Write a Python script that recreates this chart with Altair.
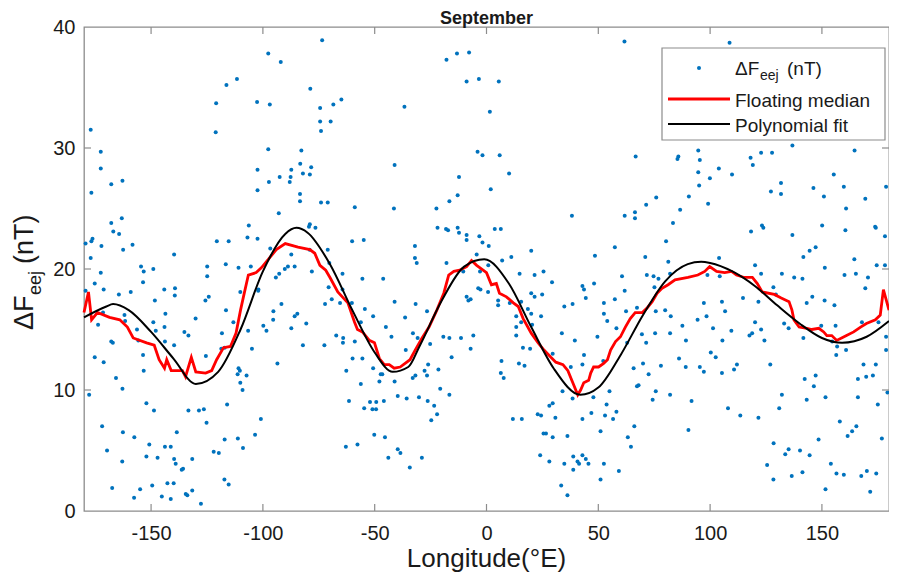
import altair as alt
import pandas as pd

# ---------------- data ----------------
X_TICKS = [-150, -100, -50, 0, 50, 100, 150]
Y_TICKS = [0, 10, 20, 30, 40]
Y_INNER_TICKS = [10, 20, 30]

SCATTER_LON = [
    # far west
    -177.0, -172.5, -172.5, -176.7, -167.8, -162.8, -167.8, -163.1, -166.9, -164.3, -176.2, -176.7,
    -179.3, -172.2, -162.5, -158.3, -177.0, -139.7, -120.9, -116.3, -111.6, -121.1, -102.6, -102.4,
    -102.4, -120.6, -115.3, -106.3, -106.9, -102.4, -124.9, -116.6, -110.9, -105.4,
    -154.5, -149.0, -153.3, -172.5, -175.2, -153.6, -171.2, -179.3, -159.1, -164.4, -139.3, -144.1,
    -139.4, -148.3, -171.5, -161.9, -173.7, -161.6, -156.3, -149.0, -147.9, -144.0, -143.6, -130.1,
    -135.1, -133.3, -167.8, -167.1, -155.7, -143.8, -139.7, -175.2, -171.2, -153.6, -125.5, -153.3,
    -165.7, -177.7, -162.8, -152.1, -148.7, -133.3, -128.6, -126.4, -125.2, -171.9, -162.6, -157.5,
    -150.8, -138.5, -169.7, -143.8, -141.2, -147.1, -152.1, -139.7, -139.0, -135.7, -136.3, -131.6,
    -162.9, -167.4, -154.9, -149.5, -142.7, -139.9, -145.2, -157.6, -141.2, -134.5, -133.8, -131.6,
    -127.7, -124.9, -125.7, -124.2, -110.1, -102.0, -116.5, -113.2, -118.3, -106.6, -104.9, -118.6,
    -117.1, -110.9, -110.3, -111.3, -107.3, -110.1, -109.1, -116.0, -122.0, -119.7, -117.1, -111.2,
    -108.9, -103.5, -117.2, -115.3,
    # west-centre
    -73.5, -97.6, -92.0, -78.8, -96.9, -74.4, -68.5, -64.9, -74.4, -69.7, -74.0, -36.7, -17.9, -13.2,
    -8.9, -97.6, -82.8, -83.3, -78.4, -87.3, -92.5, -87.6, -82.1, -79.0, -97.3, -88.0, -41.1, -12.3,
    -83.4, -83.4, -74.0, -71.0, -92.9, -58.9, -41.4, -12.9, -16.6, -22.4, -79.0, -79.4, -76.5, -96.7,
    -21.9, -18.1, -17.2, -12.9, -12.3, -8.9, -60.1, -54.9, -32.0, -32.0, -31.2, -17.9, -8.9, -87.3,
    -71.0, -79.1,
    -85.8, -88.8, -90.2, -92.7, -94.2, -102.1, -91.7, -95.3, -95.4, -84.6, -85.8, -87.3, -80.6, -99.8,
    -98.4, -82.1, -72.5, -93.5, -78.1, -70.3, -64.4, -72.2, -70.6, -69.2, -64.4, -65.5, -60.2, -55.5,
    -46.2, -10.4, -8.9, -54.4, -50.7, -41.1, -31.7, -26.6, -36.4, -45.0, -42.5, -32.9, -30.8, -25.2,
    -19.3, -16.6, -11.4, -56.2, -67.2, -64.1, -64.2, -58.9, -59.9, -55.5, -62.7, -36.1, -50.7, -47.3,
    -46.6, -26.1, -21.5, -56.2, -47.9, -41.1, -33.0, -31.8, -27.7, -26.6, -15.6, -20.7, -16.6, -39.7,
    -35.7, -30.2, -26.3, -61.5, -52.1, -49.3, -45.9, -54.7, -51.0, -49.4, -23.4, -22.1, -24.7, -100.9,
    -50.2, -45.4, -62.9, -57.7, -39.7, -38.5, -43.9, -28.9, -34.3,
    # east-centre
    -7.8, -3.4, 5.5, 1.5, 61.7, -4.0, -1.8, 5.9, 66.7, 10.1, 1.9, 75.9, 71.4, 38.2, 61.8, 66.4, 66.4,
    83.4, -3.2, -1.8, 1.0, 3.7, 6.4, 20.0, -4.4, 11.1, 7.0, 0.8, 48.5, 57.4, 71.0, 80.3, 81.3,
    -2.9, -3.7, -2.7, 0.7, -8.1, -7.1, 5.2, 5.2, 10.4, 15.5, 18.5, 20.0, 13.3, 13.3, 13.3, 15.5, 20.4,
    24.4, -5.9, -7.1, 16.3, 19.5, 6.7, 14.5, 17.0, 6.4, 7.7, 14.8, 21.5, 25.5, 29.3, 24.9, 20.0, 21.5,
    42.9, 43.6, 48.1, 44.4, 34.8, 38.5, 52.5, 52.5, 54.0, 57.4, 60.6, 61.8, 62.4, 67.3, 71.7, 74.7,
    76.9, 75.1, 82.1, 79.9, 75.7, 82.1, 75.4, 69.5, 58.1, 39.5, 33.7, 49.6, 62.9, 71.4, 29.6, 37.7,
    42.9, 43.6, 52.2, 65.8, 72.5, 78.0, 70.0, 67.3, 68.0, 74.3, 75.7, 82.1, 34.0, 38.5, 47.8, 55.0,
    28.1, 29.6, 22.9, 24.4, 11.8, 15.8, 30.8, 42.9, 46.9, 53.0, 53.7, 56.6, 58.1, 25.5, 26.6, 29.6,
    36.2, 51.0, 66.1, 63.2, 64.6, 24.0, 28.1, 34.8, 38.8, 38.8, 40.7, 41.4, 42.9, 44.4, 45.6, 52.5,
    51.0, 59.2, 33.4, 36.2,
    # far east
    108.7, 136.8, 164.6, 122.8, 127.7, 94.7, 95.4, 85.8, 85.4, 118.1, 119.1, 103.9, 94.7, 99.9, 109.8,
    155.3, 95.1, 131.7, 127.2, 131.7, 146.2, 150.9, 159.8, 169.4, 178.7, 90.5, 99.1, 86.6, 160.8,
    118.3, 123.2, 123.8, 136.8, 150.1, 160.5, 173.8, 174.1, 178.2, 147.2, 144.5, 141.7, 164.5, 174.5,
    178.2, 104.0, 120.1, 151.3,
    98.8, 104.3, 122.8, 132.1, 137.6, 141.3, 160.1, 165.2, 170.6, 169.4, 128.3, 129.4, 114.7, 121.6,
    97.2, 105.3, 106.7, 143.2, 145.7, 151.2, 155.6, 82.4, 98.4, 94.4, 120.1, 133.1, 135.1, 149.7,
    156.1, 167.9, 175.3, 87.6, 101.3, 109.5, 117.6, 118.8, 122.8, 124.3, 105.5, 89.2, 141.7, 154.6,
    156.8, 160.8, 178.7, 178.7, 156.4, 100.3, 102.5, 86.1, 89.1, 95.4, 97.2, 105.3, 110.7, 112.0,
    126.9, 168.6, 174.1, 169.8, 172.8, 166.1, 142.3, 147.2, 146.4, 91.7, 132.1, 143.2, 151.6, 166.1,
    175.0, 179.3, 108.0, 113.5, 121.6, 130.9, 158.0, 165.4, 163.5, 161.5, 176.8, 90.3, 148.5, 128.4,
    135.1, 133.6, 140.2, 144.5, 125.5, 154.0, 128.3, 136.5, 141.3, 156.5, 159.8, 167.6, 170.1, 174.3,
    151.6, 171.6,
]

SCATTER_VAL = [
    # far west
    31.5, 29.7, 28.3, 26.3, 27.0, 27.3, 23.8, 24.2, 23.1, 22.9, 22.5, 22.3,
    22.1, 21.9, 21.6, 22.0, 20.9, 21.2, 33.7, 35.2, 35.7, 31.3, 33.8, 28.2,
    26.5, 22.3, 22.3, 23.6, 22.6, 22.5, 20.2, 20.4, 20.1, 20.2,
    20.2, 20.0, 19.8, 19.7, 18.8, 18.9, 18.3, 18.2, 18.1, 17.9, 18.4, 18.3,
    17.8, 17.4, 16.4, 16.2, 15.4, 15.7, 15.0, 15.6, 14.9, 15.2, 16.3, 15.9,
    14.8, 14.5, 14.0, 13.9, 14.1, 14.0, 13.7, 12.7, 12.3, 12.9, 12.8, 11.6,
    11.0, 9.6, 10.1, 8.9, 8.3, 8.3, 8.3, 8.4, 7.3, 7.0, 6.5, 6.1,
    5.5, 6.5, 5.0, 5.3, 5.3, 4.4, 4.5, 4.3, 3.9, 3.5, 3.4, 4.3,
    4.1, 1.9, 1.8, 2.1, 2.3, 2.3, 1.2, 1.1, 1.0, 1.4, 1.3, 1.7,
    0.6, 19.4, 17.4, 17.7, 18.1, 18.3, 16.6, 15.6, 14.7, 14.9, 13.4, 13.4,
    13.5, 11.8, 11.6, 11.3, 11.2, 10.6, 10.0, 8.8, 4.9, 4.8, 5.9, 6.0,
    5.2, 6.3, 2.6, 2.2,
    # west-centre
    38.9, 37.8, 37.1, 34.9, 33.6, 33.3, 33.6, 34.0, 32.2, 32.2, 31.4, 33.4, 37.3, 37.8,
    35.5, 29.9, 29.8, 28.7, 28.4, 28.2, 27.6, 27.6, 27.9, 27.8, 27.2, 27.2, 28.6, 27.6,
    26.2, 25.6, 25.5, 25.5, 24.6, 25.1, 25.0, 26.1, 25.6, 25.0, 23.7, 23.5, 23.4, 21.7,
    23.4, 23.3, 23.2, 23.4, 23.0, 22.8, 22.3, 22.4, 21.9, 20.9, 20.5, 20.5, 22.4, 21.2,
    21.6, 21.6,
    20.2, 20.2, 20.0, 19.6, 19.3, 18.2, 17.1, 16.5, 15.8, 16.3, 16.1, 15.1, 15.5, 15.3,
    14.9, 13.7, 13.7, 12.2, 19.8, 20.5, 19.6, 17.1, 18.5, 17.5, 18.3, 17.2, 17.2, 19.2,
    19.2, 19.8, 17.7, 16.7, 16.1, 17.3, 17.1, 16.5, 16.0, 15.2, 14.4, 14.7, 14.3, 13.8,
    14.4, 14.3, 14.3, 15.6, 14.5, 14.3, 13.9, 14.0, 12.6, 12.6, 11.6, 13.3, 11.8, 11.3,
    11.3, 12.1, 11.7, 10.5, 10.7, 10.7, 11.0, 11.2, 11.6, 11.2, 12.7, 10.1, 9.6, 9.5,
    9.3, 9.4, 9.1, 9.1, 9.0, 9.0, 9.1, 8.5, 8.4, 8.4, 8.7, 8.0, 7.5, 7.6,
    6.3, 6.1, 5.3, 5.5, 5.1, 4.8, 4.4, 4.4, 3.6,
    # east-centre
    37.9, 35.7, 35.5, 33.0, 38.8, 29.7, 29.4, 29.4, 29.3, 27.9, 26.6, 25.9, 25.3, 24.4, 24.4, 24.7, 24.2,
    23.8, 22.7, 22.2, 21.9, 23.3, 23.3, 21.5, 21.2, 21.0, 20.7, 20.3, 21.1, 21.8, 21.0, 22.3, 20.6,
    19.8, 18.4, 18.3, 18.1, 17.4, 17.5, 17.4, 17.0, 17.2, 17.3, 16.7, 16.3, 16.1, 15.2, 14.5, 15.6, 15.4,
    16.1, 14.5, 13.4, 13.5, 13.4, 12.4, 12.2, 12.0, 11.4, 11.0, 19.6, 19.5, 19.8, 18.9, 17.9, 18.0, 17.7,
    18.6, 18.3, 18.8, 17.6, 16.9, 17.1, 17.2, 16.3, 15.7, 17.5, 19.4, 18.2, 16.5, 16.8, 19.5, 19.4,
    19.2, 18.5, 19.6, 16.6, 16.5, 14.7, 14.7, 14.6, 15.1, 14.1, 14.7, 14.4, 13.9, 13.9, 13.0, 11.9,
    12.1, 12.9, 12.4, 11.8, 11.3, 12.0, 12.2, 10.3, 10.4, 9.2, 9.9, 9.6, 9.9, 9.3, 9.4, 9.9,
    8.7, 8.9, 8.0, 7.9, 7.6, 7.6, 7.7, 7.6, 8.1, 7.9, 8.8, 7.6, 8.2, 6.4, 6.4, 6.1,
    6.2, 6.6, 7.0, 6.1, 5.3, 4.6, 4.1, 3.9, 4.5, 3.4, 4.1, 3.9, 4.6, 4.3, 3.9, 3.9,
    2.6, 3.3, 2.1, 1.3,
    # far east
    38.7, 30.2, 29.8, 29.6, 29.6, 29.8, 29.0, 29.3, 29.1, 29.2, 28.6, 28.3, 28.0, 27.5, 27.8,
    27.8, 26.9, 27.1, 26.4, 26.2, 26.7, 26.0, 26.8, 25.8, 26.8, 26.0, 25.4, 24.9, 25.0,
    23.1, 23.6, 23.4, 22.8, 23.6, 23.2, 23.5, 23.4, 22.7, 21.8, 21.5, 21.0, 20.8, 20.3,
    20.3, 20.9, 20.3, 20.1,
    19.5, 19.4, 19.6, 19.6, 19.3, 19.2, 19.5, 19.6, 19.3, 18.4, 18.5, 17.9, 17.6, 17.3,
    17.2, 17.3, 16.5, 17.2, 17.7, 17.4, 17.0, 16.1, 16.1, 15.8, 15.6, 15.5, 15.1, 15.3,
    15.3, 15.6, 15.6, 15.3, 15.1, 14.9, 14.5, 14.7, 15.0, 14.1, 14.1, 14.1, 14.3, 14.0,
    13.6, 13.3, 14.4, 13.3, 12.9, 13.1, 12.7, 12.6, 11.9, 11.9, 11.5, 11.4, 11.7, 12.1,
    12.1, 12.1, 12.1, 11.1, 11.2, 10.9, 10.9, 11.2, 10.3, 9.1, 9.6, 9.2, 9.4, 9.4,
    8.8, 9.8, 8.5, 7.9, 7.7, 8.5, 7.4, 7.0, 6.6, 6.2, 6.0, 6.7, 5.9, 5.6,
    5.1, 4.7, 5.0, 4.6, 3.8, 3.9, 2.6, 2.9, 3.2, 3.1, 3.0, 2.9, 3.3, 3.1,
    1.8, 1.6,
]

MEDIAN_LON = [
    -180, -178, -176.6, -174, -168.6, -164, -160.6, -158, -152, -148.6, -146.4, -144, -143, -141, -136,
    -134.6, -132, -130, -125.6, -122.9, -120.7, -117.6, -114.5, -112, -110, -108.7, -106.5, -103, -100.7,
    -94, -90, -84.3, -79, -76.8, -74.5, -71.9, -70, -66.5, -62, -59, -57.7, -55.5, -52.4, -50.1, -47.9,
    -45.7, -43.5, -41.3, -38.6, -34.2, -31.9, -28.8, -25.7, -22.2, -19.1, -16.9, -14.6, -12, -8.9, -6.7,
    -4.4, 0, 2.2, 4.4, 5.8, 8.9, 12, 14.2, 16.4, 20, 23.1, 25.7, 28.8, 31, 34.2, 36.4, 38.6, 40.8, 42.1,
    43.5, 45.7, 46.6, 47.9, 50.1, 52.4, 54.1, 55.5, 57.7, 59.9, 62.1, 64.3, 66.5, 69.7, 71.9, 74.1, 76.3,
    78.5, 81.2, 84.3, 90.1, 94.5, 97.6, 99.8, 102.9, 106.5, 109.6, 111.8, 115.3, 118.9, 121.1, 123.3,
    128.7, 131.8, 135.3, 136.6, 137.5, 139.8, 143.3, 145.5, 148.6, 150.8, 152.2, 154.4, 156.6, 158.8,
    161, 164.2, 167.3, 169.9, 173.9, 176.1, 177.5, 180,
]
MEDIAN_VAL = [
    16.4, 18.1, 15.8, 16.4, 16.0, 15.8, 15.2, 14.3, 13.9, 13.7, 12.5, 11.8, 12.5, 11.6, 11.6,
    11.1, 12.7, 11.5, 11.4, 11.6, 12.5, 13.5, 13.6, 14.7, 16.6, 17.7, 19.5, 19.7, 20.1,
    21.6, 22.1, 21.8, 21.6, 21.3, 20.3, 19.9, 19.3, 18.1, 17.2, 15.6, 15.0, 14.8, 14.1, 13.9, 12.6,
    12.1, 12.1, 11.8, 11.9, 12.5, 13.3, 14.3, 15.2, 16.6, 18.0, 19.5, 19.8, 19.9, 20.2, 20.7,
    20.3, 19.7, 18.7, 18.8, 18.0, 17.7, 17.2, 16.9, 15.9, 14.7, 13.9, 13.3, 12.7, 12.3, 12.1, 11.6, 10.6, 9.6, 10.0,
    10.6, 10.8, 11.4, 11.9, 11.9, 12.2, 12.5, 13.3, 14.0, 14.4, 15.2, 15.9, 16.4, 16.4, 16.8, 17.3, 18.0,
    18.4, 18.7, 19.1, 19.3, 19.5, 19.8, 20.2, 19.8, 19.7, 19.8, 19.5, 19.3, 19.3, 18.8, 18.1,
    17.9, 17.6, 17.3, 16.6, 15.8, 15.2, 15.1, 15.0, 15.1, 14.8, 14.5, 14.5, 14.1, 14.3,
    14.5, 14.8, 15.2, 15.5, 15.8, 16.2, 18.3, 16.6,
]

FIT_LON = [-180, -170, -167, -160, -150, -140, -130, -120, -110, -100, -90, -85, -80, -70, -60, -50, -42,
           -35, -30, -20, -10, -1, 10, 20, 30, 42, 50, 60, 70, 80, 90, 96, 100, 110, 120, 130, 140,
           150, 159, 170, 180]
FIT_VAL = [16.0, 16.9, 17.1, 16.6, 14.8, 12.6, 10.5, 11.5, 15.0, 19.8, 22.9, 23.4, 23.0, 20.4, 16.6, 13.1,
           11.5, 11.9, 13.6, 17.4, 20.2, 20.8, 18.8, 15.2, 11.8, 9.6, 10.2, 12.9, 16.2, 19.0, 20.4, 20.6,
           20.5, 19.8, 18.6, 17.0, 15.5, 14.3, 13.9, 14.4, 15.7]

# ---------------- styling ----------------
W, H = 805, 484
PAD_L, PAD_T, PAD_R, PAD_B = 76, 19, 0, 62
FONT = "Liberation Sans"
BLUE = "#0072BD"
RED = "#FF0000"
FRAME = "#8c8c8c"
TXT = "#1a1a1a"
DOT = 16

pts = pd.DataFrame({"lon": SCATTER_LON, "val": SCATTER_VAL})
med = pd.DataFrame({"lon": MEDIAN_LON, "val": MEDIAN_VAL})
fit = pd.DataFrame({"lon": FIT_LON, "val": FIT_VAL})
xt = pd.DataFrame({"lon": X_TICKS})
yt = pd.DataFrame({"val": Y_INNER_TICKS})
one = pd.DataFrame({"a": [0]})

xs = alt.Scale(domain=[-180, 180], nice=False, zero=False)
ys = alt.Scale(domain=[0, 40], nice=False, zero=False)

xax = alt.Axis(values=X_TICKS, title=None, domain=False, ticks=False, tickSize=0, grid=False,
               labelFont=FONT, labelFontSize=20, labelColor=TXT, labelPadding=12,
               labelExpr="'' + datum.value")
yax = alt.Axis(values=Y_TICKS, title=None, domain=False, ticks=False, tickSize=0, grid=False,
               labelFont=FONT, labelFontSize=20, labelColor=TXT, labelPadding=9,
               labelExpr="'' + datum.value")

X = alt.X("lon:Q", scale=xs, axis=xax)
Y = alt.Y("val:Q", scale=ys, axis=yax)

scatter = alt.Chart(pts).mark_circle(size=DOT, color=BLUE, opacity=1).encode(x=X, y=Y)
median = alt.Chart(med).mark_line(color=RED, strokeWidth=2.8).encode(x=X, y=Y, order="lon:Q")
poly = alt.Chart(fit).mark_line(color="black", strokeWidth=2, interpolate="monotone").encode(
    x=X, y=Y, order="lon:Q")

tick_bottom = alt.Chart(xt).mark_rule(color=FRAME, strokeWidth=1.2).encode(
    x=X, y=alt.value(H), y2=alt.value(H - 7))
tick_top = alt.Chart(xt).mark_rule(color=FRAME, strokeWidth=1.2).encode(
    x=X, y=alt.value(0), y2=alt.value(7))
tick_left = alt.Chart(yt).mark_rule(color=FRAME, strokeWidth=1.2).encode(
    y=Y, x=alt.value(0), x2=alt.value(7))
tick_right = alt.Chart(yt).mark_rule(color=FRAME, strokeWidth=1.2).encode(
    y=Y, x=alt.value(W), x2=alt.value(W - 7))


def txt(s, x, y, size, angle=0, weight="normal", align="left"):
    return alt.Chart(one).mark_text(
        text=s, font=FONT, fontSize=size, fontWeight=weight, angle=angle,
        align=align, baseline="alphabetic", color=TXT,
    ).encode(x=alt.value(x), y=alt.value(y))


# legend (drawn by hand because of the subscript)
LX = 578
leg_box = alt.Chart(one).mark_rect(fill="white", stroke=FRAME, strokeWidth=1.2).encode(
    x=alt.value(LX), x2=alt.value(LX + 223), y=alt.value(21), y2=alt.value(113))
leg_dot = alt.Chart(one).mark_circle(size=DOT, color=BLUE, opacity=1).encode(
    x=alt.value(LX + 37), y=alt.value(41))
leg_red = alt.Chart(one).mark_rule(color=RED, strokeWidth=2.8).encode(
    x=alt.value(LX + 6), x2=alt.value(LX + 68), y=alt.value(72))
leg_black = alt.Chart(one).mark_rule(color="black", strokeWidth=2).encode(
    x=alt.value(LX + 6), x2=alt.value(LX + 68), y=alt.value(97))

texts = [
    txt("ΔF", LX + 73, 48, 19), txt("eej", LX + 98, 53, 14), txt("(nT)", LX + 125, 48, 19),
    txt("Floating median", LX + 73, 80, 19), txt("Polynomial fit", LX + 73, 105, 19),
    txt("September", W / 2, -3, 18, weight="bold", align="center"),
    txt("Longitude(°E)", W / 2, 540, 26, align="center"),
    txt("ΔF", -51, 303, 27, angle=270), txt("eej", -43, 268, 18, angle=270),
    txt("(nT)", -51, 237, 27, angle=270),
]

chart = alt.layer(
    scatter, median, poly, tick_bottom, tick_top, tick_left, tick_right,
    leg_box, leg_dot, leg_red, leg_black, *texts,
).properties(
    width=W, height=H,
    autosize=alt.AutoSizeParams(type="none"),
    padding={"left": PAD_L, "top": PAD_T, "right": PAD_R, "bottom": PAD_B},
    background="white",
).configure_view(stroke=FRAME, strokeWidth=1.3)

chart.save("out.html", embed_options={"renderer": "svg", "actions": False})
